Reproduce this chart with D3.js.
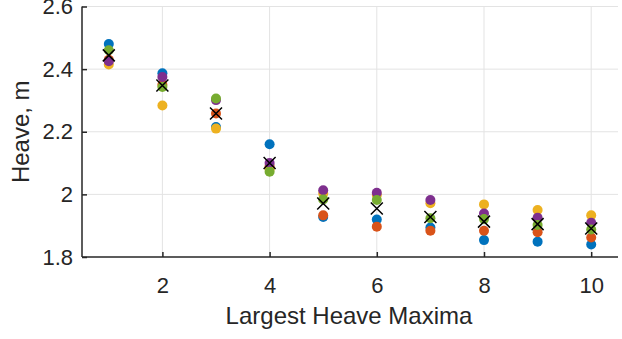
<!DOCTYPE html>
<html><head><meta charset="utf-8">
<script src="https://cdn.jsdelivr.net/npm/d3@7"></script>
<style>body{margin:0;background:#fff}svg{display:block}text{font-family:"Liberation Sans",Arial,sans-serif;fill:#262626}</style>
</head><body><svg id="c" width="622" height="339"></svg>
<script>
const maxima = [1,2,3,4,5,6,7,8,9,10];
const seriesBlue   = [2.480,2.387,2.215,2.160,1.928,1.920,1.894,1.854,1.849,1.840];
const seriesOrange = [2.430,2.350,2.258,2.090,1.933,1.897,1.884,1.884,1.879,1.862];
const seriesYellow = [2.415,2.284,2.210,2.080,2.003,1.998,1.972,1.968,1.950,1.933];
const seriesPurple = [2.425,2.375,2.301,2.100,2.013,2.005,1.982,1.939,1.925,1.909];
const seriesGreen  = [2.460,2.343,2.306,2.072,1.984,1.982,1.924,1.921,1.902,1.888];
const meanValues   = [2.444,2.348,2.258,2.100,1.971,1.955,1.928,1.913,1.905,1.891];
const xTicks = [2,4,6,8,10];
const yTicks = [1.8,2.0,2.2,2.4,2.6];
const yTickLabels = ["1.8","2","2.2","2.4","2.6"];
const xLabel = "Largest Heave Maxima";
const yLabel = "Heave, m";

const series = [
  {vals: seriesBlue,   color: "#0072BD"},
  {vals: seriesOrange, color: "#D95319"},
  {vals: seriesYellow, color: "#EDB120"},
  {vals: seriesPurple, color: "#7E2F8E"},
  {vals: seriesGreen,  color: "#77AC30"}
];

const svg = d3.select("#c");
const L = 82, R = 618, T = 6.5, B = 257;
const x = d3.scaleLinear().domain([0.5,10.5]).range([L,R]);
const y = d3.scaleLinear().domain([1.8,2.6]).range([B,T]);

// grid
const grid = svg.append("g").attr("stroke","#e3e3e3").attr("stroke-width",1);
xTicks.forEach(t => grid.append("line").attr("x1",x(t)).attr("x2",x(t)).attr("y1",T).attr("y2",B));
yTicks.slice(1).forEach(t => grid.append("line").attr("x1",L).attr("x2",R).attr("y1",y(t)).attr("y2",y(t)));

// axes
const xAxis = d3.axisBottom(x).tickValues(xTicks).tickSizeInner(-5).tickSizeOuter(0).tickPadding(20).tickFormat(d3.format("d"));
const gx = svg.append("g").attr("transform",`translate(0,${B})`).call(xAxis);
const yAxis = d3.axisLeft(y).tickValues(yTicks).tickSizeInner(-5).tickSizeOuter(0).tickPadding(9).tickFormat((d,i)=>yTickLabels[i]);
const gy = svg.append("g").attr("transform",`translate(${L},0)`).call(yAxis);
[gx,gy].forEach(g=>{
  g.select(".domain").attr("stroke","#262626").attr("stroke-width",1.5);
  g.selectAll(".tick line").attr("stroke","#262626").attr("stroke-width",1.5);
  g.selectAll(".tick text").attr("font-size",22).attr("fill","#262626").attr("font-family","Liberation Sans, Arial, sans-serif");
});
gx.select(".domain").attr("d",`M${L},0H${R}`);
gy.select(".domain").attr("d",`M0,${B}V${T}`);

// points
series.forEach(s=>{
  svg.append("g").selectAll("circle").data(s.vals).join("circle")
    .attr("cx",(d,i)=>x(maxima[i])).attr("cy",d=>y(d)).attr("r",5).attr("fill",s.color);
});
// mean crosses
const m = svg.append("g").attr("stroke","#000").attr("stroke-width",1.5);
meanValues.forEach((v,i)=>{
  const cx = x(maxima[i]), cy = y(v), h = 6;
  m.append("path").attr("d",`M${cx-h},${cy-h}L${cx+h},${cy+h}M${cx-h},${cy+h}L${cx+h},${cy-h}`);
});

// labels
svg.append("text").attr("x",349).attr("y",324).attr("text-anchor","middle")
  .attr("font-size",24).text(xLabel);
svg.append("text").attr("transform",`translate(29,${(T+B)/2}) rotate(-90)`).attr("text-anchor","middle")
  .attr("font-size",24).text(yLabel);
</script></body></html>
